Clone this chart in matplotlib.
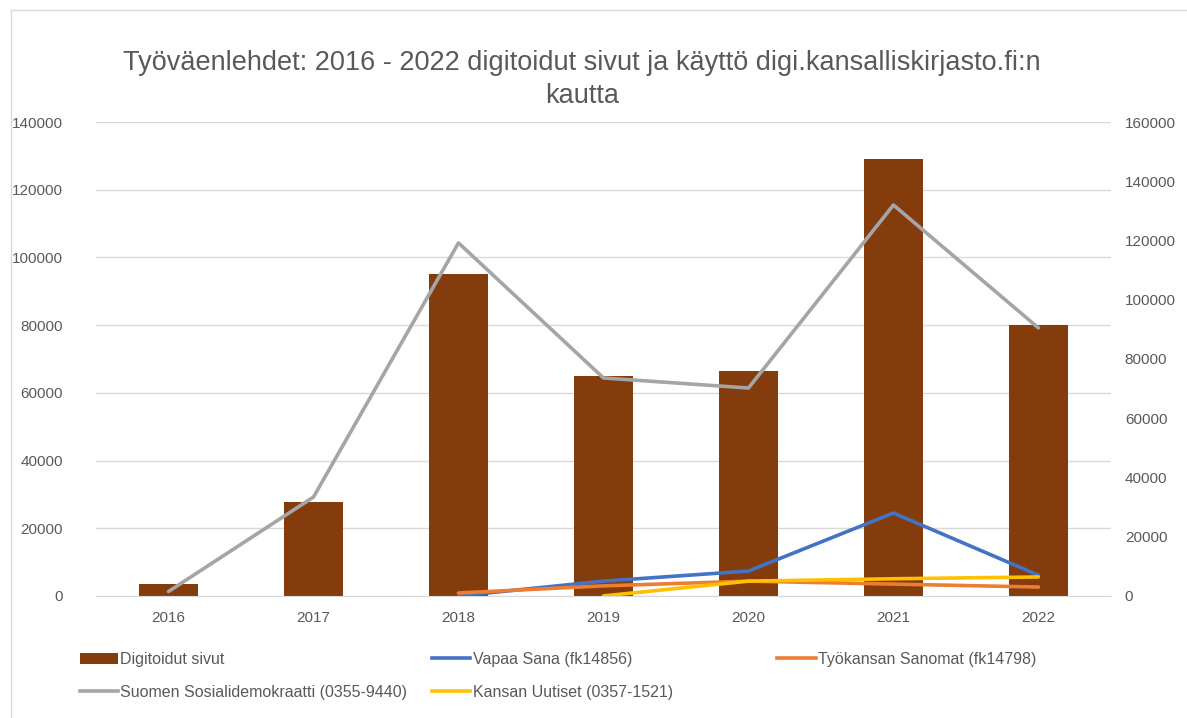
import numpy as np
import matplotlib
matplotlib.use("Agg")
import matplotlib.pyplot as plt
from matplotlib.patches import Patch
from matplotlib.lines import Line2D

plt.rcParams["font.family"] = ["Liberation Sans", "DejaVu Sans"]

years = ["2016", "2017", "2018", "2019", "2020", "2021", "2022"]
digitoidut = [3500, 27700, 95000, 65000, 66500, 129000, 80000]
vapaa_sana = [np.nan, np.nan, 0, 5000, 8400, 28000, 7000]
tyokansan = [np.nan, np.nan, 1000, 3400, 5000, 4000, 3000]
suomen_sd = [1500, 33400, 119200, 73600, 70200, 132000, 90500]
kansan_uutiset = [np.nan, np.nan, np.nan, 0, 5000, 5800, 6400]

c_bar = "#843C0C"
c_blue = "#4472C4"
c_orange = "#ED7D31"
c_gray = "#A5A5A5"
c_yellow = "#FFC000"
txt = "#595959"
grid = "#D9D9D9"

fig = plt.figure(figsize=(11.87, 7.18), dpi=100)
ax = fig.add_axes([0.0809, 0.170, 0.855, 0.660])
x = np.arange(len(years))

ax.bar(x, digitoidut, width=0.41, color=c_bar, zorder=2)
ax.set_ylim(0, 140000)
ax.set_xlim(-0.5, len(years) - 0.5)
ax.set_yticks(np.arange(0, 140001, 20000))
ax.grid(axis="y", color=grid, lw=1, zorder=0)
ax.set_xticks(x)
ax.set_xticklabels(years)
for s in ["top", "left", "right"]:
    ax.spines[s].set_visible(False)
ax.spines["bottom"].set_color(grid)
ax.tick_params(axis="both", length=0, colors=txt, labelsize=11)
ax.tick_params(axis="y", pad=24)
ax.tick_params(axis="x", pad=11)

ax2 = ax.twinx()
ax2.set_ylim(0, 160000)
ax2.set_yticks(np.arange(0, 160001, 20000))
for s in ax2.spines.values():
    s.set_visible(False)
ax2.tick_params(axis="y", length=0, colors=txt, labelsize=11, pad=10)

lw = 2.6
ax2.plot(x, vapaa_sana, color=c_blue, lw=lw, solid_capstyle="round")
ax2.plot(x, tyokansan, color=c_orange, lw=lw, solid_capstyle="round")
ax2.plot(x, suomen_sd, color=c_gray, lw=lw, solid_capstyle="round")
ax2.plot(x, kansan_uutiset, color=c_yellow, lw=lw, solid_capstyle="round")

fig.text(0.490, 0.912, "Työväenlehdet: 2016 - 2022 digitoidut sivut ja käyttö digi.kansalliskirjasto.fi:n",
         ha="center", va="center", fontsize=19.5, color=txt)
fig.text(0.490, 0.866, "kautta", ha="center", va="center", fontsize=19.5, color=txt)

# legend, three columns like Excel
cols = [
    (0.067, [(Patch(facecolor=c_bar), "Digitoidut sivut"),
             (Line2D([], [], color=c_gray, lw=lw), "Suomen Sosialidemokraatti (0355-9440)")]),
    (0.364, [(Line2D([], [], color=c_blue, lw=lw), "Vapaa Sana (fk14856)"),
             (Line2D([], [], color=c_yellow, lw=lw), "Kansan Uutiset (0357-1521)")]),
    (0.655, [(Line2D([], [], color=c_orange, lw=lw), "Työkansan Sanomat (fk14798)")]),
]
for xpos, items in cols:
    fig.legend([h for h, _ in items], [l for _, l in items], loc="upper left",
               bbox_to_anchor=(xpos, 0.092), frameon=False, fontsize=11.5,
               labelcolor=txt, handlelength=2.4, handletextpad=0.15,
               labelspacing=1.1, borderpad=0, borderaxespad=0)

# outer chart border
fig.add_artist(Line2D([0.009, 1.0], [0.986, 0.986], color=grid, lw=1))
fig.add_artist(Line2D([0.009, 0.009], [0.0, 0.986], color=grid, lw=1))

fig.savefig("out.png", dpi=100)
